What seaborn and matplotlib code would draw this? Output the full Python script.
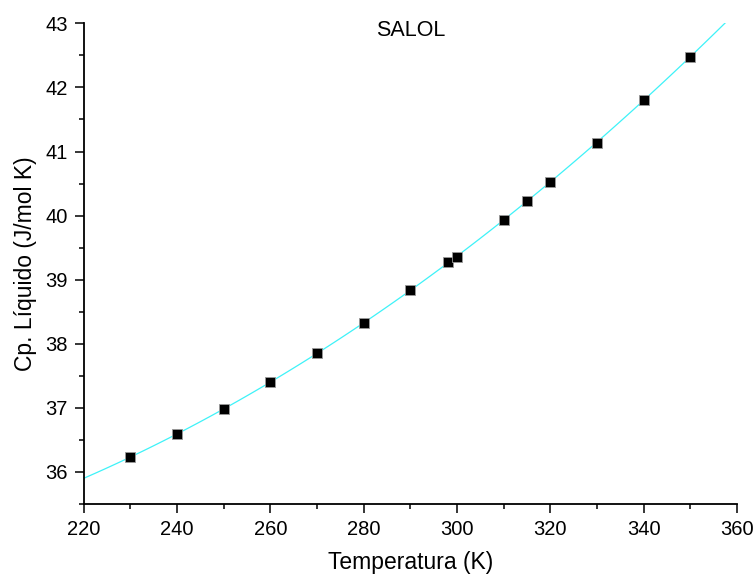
import matplotlib
matplotlib.use("Agg")
import matplotlib.pyplot as plt
import seaborn as sns
import pandas as pd
from matplotlib.ticker import MultipleLocator

temperature = [230, 240, 250, 260, 270, 280, 290, 298.15, 300, 310, 315, 320, 330, 340, 350]
cp_liquid = [36.23, 36.60, 36.98, 37.40, 37.85, 38.33, 38.84, 39.27, 39.36, 39.93, 40.23, 40.52, 41.14, 41.80, 42.48]
x_ticks = [220, 240, 260, 280, 300, 320, 340, 360]
y_ticks = [36, 37, 38, 39, 40, 41, 42, 43]

df = pd.DataFrame({"T": temperature, "Cp": cp_liquid})

sns.set_theme(style="ticks")
plt.rcParams["font.family"] = ["Liberation Sans", "DejaVu Sans"]

fig = plt.figure(figsize=(7.55, 5.76), dpi=100)
ax = fig.add_axes([0.111, 0.125, 0.865, 0.8345])
ax.set_xlim(220, 360)
ax.set_ylim(35.5, 43)

sns.regplot(data=df, x="T", y="Cp", order=2, ci=None, scatter=False, truncate=False,
            line_kws={"color": "#3ef2f8", "lw": 0.9}, ax=ax)
sns.scatterplot(data=df, x="T", y="Cp", marker="s", s=58, color="black",
                edgecolor="#9a9a9a", linewidth=0.6, ax=ax, zorder=3)

ax.set_xlim(220, 360)
ax.set_ylim(35.5, 43)
ax.set_xticks(x_ticks)
ax.set_yticks(y_ticks)
ax.xaxis.set_minor_locator(MultipleLocator(10))
ax.yaxis.set_minor_locator(MultipleLocator(0.5))
ax.tick_params(which="major", length=6.5, width=1.1, labelsize=14.5, color="black", labelcolor="black", pad=5)
ax.tick_params(which="minor", length=3.5, width=1.1, color="black")
for side in ["top", "right"]:
    ax.spines[side].set_visible(False)
for side in ["left", "bottom"]:
    ax.spines[side].set_linewidth(1.3)
    ax.spines[side].set_color("black")

ax.set_xlabel("Temperatura (K)", fontsize=16.5, labelpad=9, color="black")
ax.set_ylabel("Cp. Líquido (J/mol K)", fontsize=16.5, labelpad=6, color="black")
ax.text(0.5, 0.986, "SALOL", transform=ax.transAxes, ha="center", va="center", fontsize=15.5, color="black")

fig.savefig("out.png", dpi=100)
